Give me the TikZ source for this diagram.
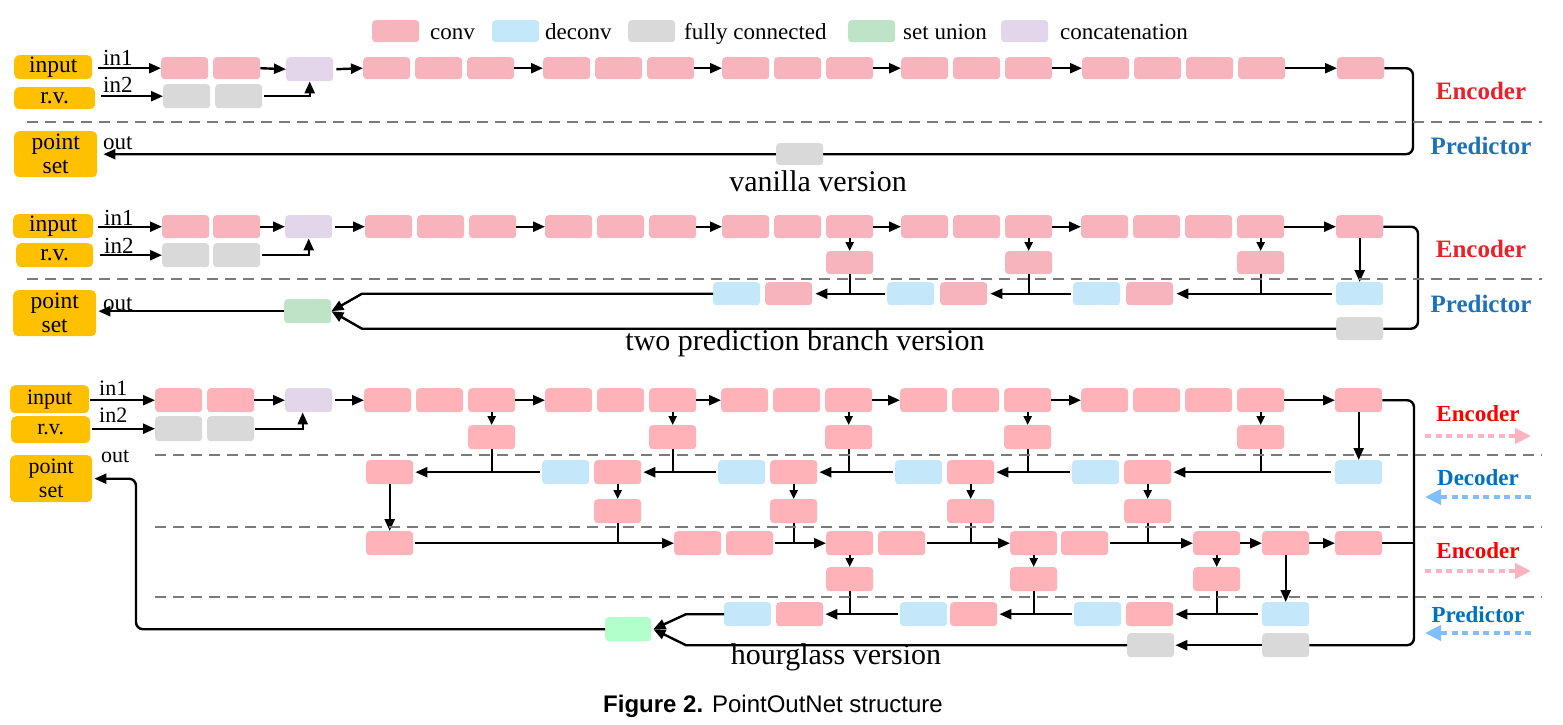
\documentclass[tikz,border=0pt]{standalone}
\usepackage{fontspec}
\setmainfont{Liberation Serif}
\newfontfamily\capsans{Liberation Sans}
\usetikzlibrary{arrows.meta}

\definecolor{convA}{HTML}{F8B4BC}
\definecolor{convB}{HTML}{FFB3B9}
\definecolor{deconv}{HTML}{C4E7FA}
\definecolor{fcgray}{HTML}{D9D9D9}
\definecolor{unionA}{HTML}{BFE3C6}
\definecolor{unionB}{HTML}{B3FFCB}
\definecolor{concat}{HTML}{E3D6EA}
\definecolor{ioyel}{HTML}{FFC000}
\definecolor{sepgray}{HTML}{7A7A7A}
\definecolor{encred}{HTML}{E8212B}
\definecolor{predblue}{HTML}{1C71B8}
\definecolor{encredB}{HTML}{FF0000}
\definecolor{predblueB}{HTML}{0070C0}
\definecolor{arrpink}{HTML}{FFB3C1}
\definecolor{arrblue}{HTML}{80BFFF}

\pgfdeclarelayer{bg}
\pgfsetlayers{bg,main}

\tikzset{
  blk/.style={rounded corners=3.5pt, minimum width=47pt, minimum height=23pt,
    inner sep=0pt, anchor=north west},
  conv/.style={blk, fill=convA},
  convh/.style={blk, fill=convB},
  dec/.style={blk, fill=deconv},
  fc/.style={blk, fill=fcgray},
  uniA/.style={blk, fill=unionA},
  uniB/.style={blk, fill=unionB},
  cat/.style={blk, fill=concat},
  iobox/.style={rounded corners=5pt, fill=ioyel, inner sep=0pt, anchor=north west,
    align=center, font=\fontsize{23.5}{24}\selectfont},
  conn/.style={line width=2.4pt, draw=black},
  arr/.style={conn, -{Triangle[length=12pt,width=10pt]}},
  sarr/.style={conn, -{Triangle[length=9pt,width=8pt]}},
  sep/.style={line width=2.8pt, draw=sepgray, dash pattern=on 11pt off 7pt},
  lbl/.style={font=\fontsize{23}{24}\selectfont, inner sep=0pt, anchor=base west},
  legtxt/.style={font=\fontsize{23}{25}\selectfont, inner sep=0pt, anchor=base west},
  vers/.style={font=\fontsize{30}{32}\selectfont, inner sep=0pt},
  stageA/.style={font=\fontsize{25}{27}\selectfont\bfseries, inner sep=0pt},
  stageB/.style={font=\fontsize{23}{25}\selectfont\bfseries, inner sep=0pt},
  pinkdir/.style={line width=4pt, draw=arrpink, dash pattern=on 6pt off 4.5pt,
    -{Triangle[length=16pt,width=15pt,fill=arrpink]}},
  bluedir/.style={line width=4pt, draw=arrblue, dash pattern=on 6pt off 4.5pt,
    -{Triangle[length=16pt,width=15pt,fill=arrblue]}},
}

\begin{document}
\begin{tikzpicture}[x=1pt,y=-1pt]
\useasboundingbox (0,0) rectangle (1563,724);

% ---------------- legend ----------------
\node[conv, minimum height=22pt] (Lc) at (372,20) {};
\node[legtxt] (Lct) at (430,39) {conv};
\node[dec, minimum height=22pt] (Ld) at (492,20) {};
\node[legtxt] (Ldt) at (545,39) {deconv};
\node[fc, minimum height=22pt] (Lf) at (628,20) {};
\node[legtxt] (Lft) at (684,39) {fully connected};
\node[uniA, minimum height=22pt] (Lu) at (848,20) {};
\node[legtxt] (Lut) at (903,39) {set union};
\node[cat, minimum height=22pt] (Lk) at (1001,20) {};
\node[legtxt] (Lkt) at (1060,39) {concatenation};

% ================= vanilla version =================
\node[iobox, minimum width=78pt, minimum height=24pt] (A_in) at (14,55) {input};
\node[iobox, minimum width=81pt, minimum height=22pt] (A_rv) at (14,87) {r.v.};
\node[iobox, minimum width=83pt, minimum height=46pt] (A_ps) at (14,131) {point\\set};

\node[conv, minimum height=22pt] (A_c1) at (161,57) {};
\node[conv, minimum height=22pt] (A_c2) at (213,57) {};
\node[fc, minimum height=24pt] (A_f1) at (163,84) {};
\node[fc, minimum height=24pt] (A_f2) at (215,84) {};
\node[cat, minimum height=24pt] (A_cat) at (286,57) {};

\foreach \xx [count=\gi] in {363,543,722,901} {
  \foreach \kk in {0,1,2}
    \node[conv, minimum height=22pt] (A\gi-\kk) at ({\xx+52*\kk},57) {};
}
\foreach \kk in {0,1,2,3}
  \node[conv, minimum height=22pt] (A5-\kk) at ({1082+52*\kk},57) {};
\node[conv, minimum height=22pt] (AF) at (1337,57) {};
\node[fc, minimum height=22pt] (A_fc) at (776,143) {};

\node[lbl] (A_l1) at (103,65) {in1};
\node[lbl] (A_l2) at (103,92) {in2};
\node[lbl] (A_lo) at (103,149) {out};

\draw[arr] ([xshift=6pt]A_in.east |- A_c1.west) -- (A_c1.west);
\draw[arr] ([xshift=6pt]A_rv.east |- A_f1.west) -- (A_f1.west);
\draw[arr] (A_c2.east) -- (A_cat.west);
\draw[arr] ([xshift=2pt]A_f2.east) -| (A_cat.south);
\draw[arr] ([xshift=3pt]A_cat.east) -- (A1-0.west);
\foreach \a/\b in {A1-2/A2-0, A2-2/A3-0, A3-2/A4-0, A4-2/A5-0, A5-3/AF}
  \draw[arr] (\a.east) -- (\b.west);

\coordinate (A_rx) at (1413,0);
\begin{pgfonlayer}{bg}
\draw[arr, rounded corners=7pt] (AF.east) -- (AF.east -| A_rx) -- (A_fc.center -| A_rx)
  -- (A_fc.center) -- ([xshift=6pt]A_ps.east |- A_fc.center);
\end{pgfonlayer}

\coordinate (A_s1) at (27,122);
\coordinate (A_s2) at (1542,122);
\draw[sep] (A_s1) -- (A_s2);
\node[stageA, text=encred] (A_enc) at (1481,91) {Encoder};
\node[stageA, text=predblue] (A_pred) at (1481,146) {Predictor};
\node[vers] (A_ver) at (818,181) {vanilla version};

% ================= two prediction branch version =================
\node[iobox, minimum width=80pt, minimum height=24pt] (B_in) at (13,214) {input};
\node[iobox, minimum width=77pt, minimum height=24pt] (B_rv) at (16,243) {r.v.};
\node[iobox, minimum width=83pt, minimum height=46pt] (B_ps) at (13,290) {point\\set};

\node[conv] (B_c1) at (162,215) {};
\node[conv] (B_c2) at (213,215) {};
\node[fc, minimum height=24pt] (B_f1) at (162,243) {};
\node[fc, minimum height=24pt] (B_f2) at (213,243) {};
\node[cat] (B_cat) at (285,215) {};

\foreach \xx [count=\gi] in {365,545,722,901} {
  \foreach \kk in {0,1,2}
    \node[conv] (B\gi-\kk) at ({\xx+52*\kk},215) {};
}
\foreach \kk in {0,1,2,3}
  \node[conv] (B5-\kk) at ({1081+52*\kk},215) {};
\node[conv] (BF) at (1336,215) {};

\node[conv] (B_b3) at (826,251) {};
\node[conv] (B_b4) at (1005,251) {};
\node[conv] (B_b5) at (1237,251) {};

\node[dec] (B_d1) at (713,282) {};
\node[conv] (B_p1) at (765,282) {};
\node[dec] (B_d2) at (887,282) {};
\node[conv] (B_p2) at (940,282) {};
\node[dec] (B_d3) at (1073,282) {};
\node[conv] (B_p3) at (1126,282) {};
\node[dec] (BFd) at (1336,282) {};
\node[fc] (BFc) at (1336,317) {};
\node[uniA, minimum height=24pt] (B_un) at (284,299) {};

\node[lbl] (B_l1) at (104,225) {in1};
\node[lbl] (B_l2) at (104,253) {in2};
\node[lbl] (B_lo) at (103,310) {out};

\draw[arr] ([xshift=5pt]B_in.east |- B_c1.west) -- (B_c1.west);
\draw[arr] ([xshift=7pt]B_rv.east |- B_f1.west) -- (B_f1.west);
\draw[arr] (B_c2.east) -- (B_cat.west);
\draw[arr] ([xshift=2pt]B_f2.east) -| (B_cat.south);
\draw[arr] ([xshift=3pt]B_cat.east) -- (B1-0.west);
\foreach \a/\b in {B1-2/B2-0, B2-2/B3-0, B3-2/B4-0, B4-2/B5-0, B5-3/BF}
  \draw[arr] (\a.east) -- (\b.west);
\foreach \a/\b in {B3-2/B_b3, B4-2/B_b4, B5-3/B_b5}
  \draw[sarr] (\a.south) -- (\b.north);
\draw[arr] (BF.south) -- (BFd.north);

\draw[arr] ([xshift=-4pt]BFd.west) -- ([xshift=3pt]B_p3.east);
\draw[conn] (B_b5.south) -- (B_b5.south |- BFd.west);
\draw[arr] ([xshift=-2pt]B_d3.west) -- ([xshift=3pt]B_p2.east);
\draw[conn] (B_b4.south) -- (B_b4.south |- B_d3.west);
\draw[arr] ([xshift=-2pt]B_d2.west) -- ([xshift=3pt]B_p1.east);
\draw[conn] (B_b3.south) -- (B_b3.south |- B_d2.west);

\coordinate (B_j) at (362,0);
\draw[arr] (B_d1.west) -- (B_d1.west -| B_j) -- (B_un.east);
\draw[arr] (BFc.west) -- (BFc.west -| B_j) -- (B_un.east);
\coordinate (B_rx) at (1418,0);
\draw[conn, rounded corners=7pt] (BF.east) -- (BF.east -| B_rx) -- (BFc.east -| B_rx) -- (BFc.east);
\draw[arr] (B_un.west) -- ([xshift=2pt]B_ps.east |- B_un.west);

\coordinate (B_s1) at (27,279);
\coordinate (B_s2) at (1542,279);
\draw[sep] (B_s1) -- (B_s2);
\node[stageA, text=encred] (B_enc) at (1481,249) {Encoder};
\node[stageA, text=predblue] (B_pred) at (1481,304) {Predictor};
\node[vers] (B_ver) at (805,343) {two prediction branch version};

% ================= hourglass version =================
\node[iobox, minimum width=79pt, minimum height=28pt, font=\fontsize{22}{23}\selectfont] (C_in) at (10,385) {input};
\node[iobox, minimum width=79pt, minimum height=27pt, font=\fontsize{22}{23}\selectfont] (C_rv) at (11,416) {r.v.};
\node[iobox, minimum width=82pt, minimum height=47pt, font=\fontsize{22}{24}\selectfont] (C_ps) at (10,455) {point\\set};

\node[convh, minimum height=24pt] (C_c1) at (155,388) {};
\node[convh, minimum height=24pt] (C_c2) at (207,388) {};
\node[fc, minimum height=25pt] (C_f1) at (155,416) {};
\node[fc, minimum height=25pt] (C_f2) at (207,416) {};
\node[cat, minimum height=24pt] (C_cat) at (285,388) {};

\foreach \xx [count=\gi] in {364,545,721,900} {
  \foreach \kk in {0,1,2}
    \node[convh, minimum height=24pt] (C\gi-\kk) at ({\xx+52*\kk},388) {};
}
\foreach \kk in {0,1,2,3}
  \node[convh, minimum height=24pt] (C5-\kk) at ({1081+52*\kk},388) {};
\node[convh, minimum height=24pt] (CF) at (1335,388) {};

% first encoder side branches
\node[convh, minimum height=24pt] (C_b1) at (468,425) {};
\node[convh, minimum height=24pt] (C_b2) at (649,425) {};
\node[convh, minimum height=24pt] (C_b3) at (825,425) {};
\node[convh, minimum height=24pt] (C_b4) at (1004,425) {};
\node[convh, minimum height=24pt] (C_b5) at (1237,425) {};

% decoder row
\node[convh, minimum height=24pt] (C_d0) at (366,460) {};
\node[dec, minimum height=24pt] (C_u1) at (542,460) {};
\node[convh, minimum height=24pt] (C_v1) at (594,460) {};
\node[dec, minimum height=24pt] (C_u2) at (718,460) {};
\node[convh, minimum height=24pt] (C_v2) at (770,460) {};
\node[dec, minimum height=24pt] (C_u3) at (895,460) {};
\node[convh, minimum height=24pt] (C_v3) at (947,460) {};
\node[dec, minimum height=24pt] (C_u4) at (1072,460) {};
\node[convh, minimum height=24pt] (C_v4) at (1124,460) {};
\node[dec, minimum height=24pt] (CFd) at (1335,460) {};

\node[convh, minimum height=24pt] (C_w1) at (594,499) {};
\node[convh, minimum height=24pt] (C_w2) at (770,499) {};
\node[convh, minimum height=24pt] (C_w3) at (947,499) {};
\node[convh, minimum height=24pt] (C_w4) at (1124,499) {};

% second encoder row
\node[convh, minimum height=24pt] (C_e0) at (366,531) {};
\node[convh, minimum height=24pt] (C_x1) at (674,531) {};
\node[convh, minimum height=24pt] (C_y1) at (726,531) {};
\node[convh, minimum height=24pt] (C_x2) at (826,531) {};
\node[convh, minimum height=24pt] (C_y2) at (878,531) {};
\node[convh, minimum height=24pt] (C_x3) at (1010,531) {};
\node[convh, minimum height=24pt] (C_y3) at (1061,531) {};
\node[convh, minimum height=24pt] (C_x4) at (1193,531) {};
\node[convh, minimum height=24pt] (C_x5) at (1262,531) {};
\node[convh, minimum height=24pt] (CF2) at (1335,531) {};

\node[convh, minimum height=24pt] (C_z2) at (826,567) {};
\node[convh, minimum height=24pt] (C_z3) at (1010,567) {};
\node[convh, minimum height=24pt] (C_z4) at (1193,567) {};

% predictor row
\node[dec, minimum height=24pt] (C_q1) at (724,602) {};
\node[convh, minimum height=24pt] (C_r1) at (776,602) {};
\node[dec, minimum height=24pt] (C_q2) at (900,602) {};
\node[convh, minimum height=24pt] (C_r2) at (950,602) {};
\node[dec, minimum height=24pt] (C_q3) at (1074,602) {};
\node[convh, minimum height=24pt] (C_r3) at (1126,602) {};
\node[dec, minimum height=24pt] (CFp) at (1262,602) {};
\node[fc, minimum height=24pt] (CFg) at (1262,633) {};
\node[fc, minimum height=24pt] (C_g) at (1127,633) {};
\node[uniB, minimum width=46pt, minimum height=24pt] (C_un) at (605,617) {};

\node[lbl, font=\fontsize{22}{23}\selectfont] (C_l1) at (99,395) {in1};
\node[lbl, font=\fontsize{22}{23}\selectfont] (C_l2) at (99,422) {in2};
\node[lbl, font=\fontsize{22}{23}\selectfont] (C_lo) at (101,462) {out};

\draw[arr] ([xshift=1pt]C_in.east |- C_c1.west) -- (C_c1.west);
\draw[arr] ([xshift=2pt]C_rv.east |- C_f1.west) -- (C_f1.west);
\draw[arr] (C_c2.east) -- (C_cat.west);
\draw[arr] ([xshift=1pt]C_f2.east) -| ([xshift=-6pt]C_cat.south);
\draw[arr] ([xshift=3pt]C_cat.east) -- (C1-0.west);
\foreach \a/\b in {C1-2/C2-0, C2-2/C3-0, C3-2/C4-0, C4-2/C5-0, C5-3/CF}
  \draw[arr] (\a.east) -- (\b.west);
\foreach \a/\b in {C1-2/C_b1, C2-2/C_b2, C3-2/C_b3, C4-2/C_b4, C5-3/C_b5}
  \draw[sarr] (\a.south) -- (\b.north);
\draw[arr] (CF.south) -- (CFd.north);

% decoder connections
\draw[arr] ([xshift=-4pt]CFd.west) -- ([xshift=2pt]C_v4.east);
\draw[conn] (C_b5.south) -- (C_b5.south |- CFd.west);
\foreach \a/\b/\c in {C_u4/C_v3/C_b4, C_u3/C_v2/C_b3, C_u2/C_v1/C_b2, C_u1/C_d0/C_b1} {
  \draw[arr] ([xshift=-2pt]\a.west) -- ([xshift=2pt]\b.east);
  \draw[conn] (\c.south) -- (\c.south |- \a.west);
}
\foreach \a/\b in {C_v1/C_w1, C_v2/C_w2, C_v3/C_w3, C_v4/C_w4}
  \draw[sarr] (\a.south) -- (\b.north);
\draw[arr] (C_d0.south) -- (C_e0.north);

% second encoder connections
\foreach \a/\b/\c in {C_e0/C_x1/C_w1, C_y1/C_x2/C_w2, C_y2/C_x3/C_w3, C_y3/C_x4/C_w4} {
  \draw[arr] ([xshift=2pt]\a.east) -- (\b.west);
  \draw[conn] (\c.south) -- (\c.south |- \a.east);
}
\draw[arr] (C_x4.east) -- (C_x5.west);
\draw[arr] (C_x5.east) -- (CF2.west);
\foreach \a/\b in {C_x2/C_z2, C_x3/C_z3, C_x4/C_z4}
  \draw[sarr] (\a.south) -- (\b.north);
\draw[arr] (C_x5.south) -- (CFp.north);

% predictor connections
\draw[arr] ([xshift=-4pt]CFp.west) -- ([xshift=2pt]C_r3.east);
\draw[conn] (C_z4.south) -- (C_z4.south |- CFp.west);
\foreach \a/\b/\c in {C_q3/C_r2/C_z3, C_q2/C_r1/C_z2} {
  \draw[arr] ([xshift=-2pt]\a.west) -- ([xshift=2pt]\b.east);
  \draw[conn] (\c.south) -- (\c.south |- \a.west);
}
\draw[arr] (CFg.west) -- ([xshift=1pt]C_g.east);
\coordinate (C_j) at (686,0);
\draw[arr] (C_q1.west) -- (C_q1.west -| C_j) -- ([xshift=2pt]C_un.east);
\draw[arr] (C_g.west) -- (C_g.west -| C_j) -- ([xshift=2pt]C_un.east);

\coordinate (C_rx) at (1414,0);
\draw[conn, rounded corners=7pt] (CF.east) -- (CF.east -| C_rx) -- (CFg.east -| C_rx) -- (CFg.east);
\draw[conn] (CF2.east) -- (CF2.east -| C_rx);
\coordinate (C_lx) at (136,0);
\draw[arr, rounded corners=7pt] (C_un.west) -- (C_un.west -| C_lx) -- (C_ps.east -| C_lx)
  -- ([xshift=2pt]C_ps.east);

\foreach \yy [count=\si] in {455,527,597} {
  \coordinate (C_s\si a) at (155,\yy);
  \coordinate (C_s\si b) at (1542,\yy);
  \draw[sep] (C_s\si a) -- (C_s\si b);
}

\node[stageB, text=encredB] (C_enc1) at (1478,414) {Encoder};
\node[stageB, text=predblueB] (C_dec) at (1478,478) {Decoder};
\node[stageB, text=encredB] (C_enc2) at (1478,551) {Encoder};
\node[stageB, text=predblueB] (C_pred) at (1478,615) {Predictor};
\coordinate (C_a1s) at (1425,436); \coordinate (C_a1e) at (1531,436);
\coordinate (C_a2s) at (1531,497); \coordinate (C_a2e) at (1425,497);
\coordinate (C_a3s) at (1425,571); \coordinate (C_a3e) at (1531,571);
\coordinate (C_a4s) at (1531,633); \coordinate (C_a4e) at (1425,633);
\draw[pinkdir] (C_a1s) -- (C_a1e);
\draw[bluedir] (C_a2s) -- (C_a2e);
\draw[pinkdir] (C_a3s) -- (C_a3e);
\draw[bluedir] (C_a4s) -- (C_a4e);

\node[vers] (C_ver) at (836,657) {hourglass version};

% caption
\node[font=\capsans\fontsize{24}{26}\selectfont, inner sep=0pt] (cap) at (773,706)
  {\textbf{Figure 2.} PointOutNet structure};
\end{tikzpicture}
\end{document}
